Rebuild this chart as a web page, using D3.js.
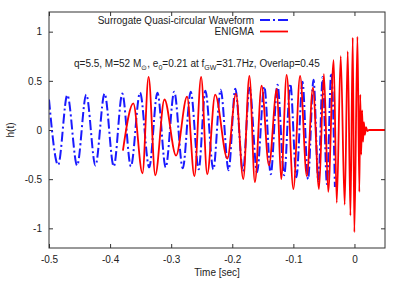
<!DOCTYPE html>
<html>
<head>
<meta charset="utf-8">
<script src="https://cdnjs.cloudflare.com/ajax/libs/d3/7.8.5/d3.min.js"></script>
<style>
  body { margin: 0; background: #fff; }
  svg { display: block; font-family: "Liberation Sans", Arial, sans-serif; }
</style>
</head>
<body>
<svg id="chart" width="403" height="282"></svg>
<script>
// extrema: [time (s), h(t)]
var surrogate = [
  [-0.500, 0.31], [-0.485, -0.355], [-0.470, 0.355], [-0.454, -0.36], [-0.439, 0.36],
  [-0.424, -0.36], [-0.409, 0.37], [-0.394, -0.37], [-0.380, 0.37], [-0.366, -0.37],
  [-0.351, 0.38], [-0.336, -0.38], [-0.3225, 0.38], [-0.309, -0.38], [-0.295, 0.39],
  [-0.281, -0.39], [-0.268, 0.39], [-0.255, -0.40], [-0.244, 0.40], [-0.231, -0.40],
  [-0.219, 0.41], [-0.206, -0.41], [-0.195, 0.42], [-0.1825, -0.42], [-0.1716, 0.43],
  [-0.1595, -0.43], [-0.1475, 0.44], [-0.137, -0.45], [-0.126, 0.46], [-0.115, -0.46],
  [-0.105, 0.47], [-0.095, -0.48], [-0.085, 0.49], [-0.076, -0.50], [-0.067, 0.51],
  [-0.059, -0.52], [-0.052, 0.54], [-0.045, -0.55], [-0.038, 0.58], [-0.032, -0.58]
];

var enigma = [
  [-0.379, -0.21], [-0.362, 0.27], [-0.347, -0.44], [-0.337, 0.54], [-0.326, -0.46],
  [-0.311, 0.31], [-0.292, -0.26], [-0.274, 0.34], [-0.262, -0.47], [-0.251, 0.54],
  [-0.241, -0.45], [-0.228, 0.36], [-0.208, -0.29], [-0.194, 0.37], [-0.182, -0.50],
  [-0.172, 0.55], [-0.163, -0.53], [-0.152, 0.45], [-0.140, -0.36], [-0.127, 0.42],
  [-0.120, -0.50], [-0.111, 0.56], [-0.100, -0.60], [-0.089, 0.55], [-0.078, -0.47],
  [-0.068, 0.43], [-0.058, -0.60], [-0.050, 0.57], [-0.043, -0.63], [-0.034, 0.71],
  [-0.029, -0.74], [-0.0225, 0.75], [-0.016, -0.76], [-0.011, 0.80], [-0.0066, -0.87],
  [-0.0028, 0.94], [-0.0002, -1.04], [0.0049, 0.95], [0.008, -0.63], [0.0095, 0.36],
  [0.011, -0.25], [0.0125, 0.20], [0.014, -0.12], [0.0155, 0.08], [0.017, -0.05],
  [0.019, 0.03], [0.021, -0.01], [0.024, 0], [0.05, 0]
];

var xTicks = [-0.5, -0.4, -0.3, -0.2, -0.1, 0];
var yTicks = [-1, -0.5, 0, 0.5, 1];
var seriesNames = ["Surrogate Quasi-circular Waveform", "ENIGMA"];
var colors = ["#1a1aff", "#ff0000"];

var W = 403, H = 282;
var L = 49, R = 385, T = 12, B = 248;

var svg = d3.select("#chart");

var xScale = d3.scaleLinear().domain([-0.5, 0.05]).range([L, R]);
var yScale = d3.scaleLinear().domain([-1.2, 1.2]).range([B, T]);

// clip so lines stay in the frame
svg.append("clipPath").attr("id", "clip")
  .append("rect").attr("x", L).attr("y", T).attr("width", R - L).attr("height", B - T);

var lineGen = d3.line()
  .x(function(p) { return xScale(p[0]); })
  .y(function(p) { return yScale(p[1]); })
  .curve(d3.curveMonotoneX);

var tickFmt = function(d) { return d === 0 ? "0" : String(d); };

// axes, gnuplot style: inward ticks on all sides
var axisStyle = function(g) {
  g.select(".domain").remove();
  g.selectAll("line").attr("stroke", "#333");
  g.selectAll("text").attr("fill", "#222").style("font-size", "10px")
    .style("font-family", "'Liberation Sans', Arial, sans-serif");
};

svg.append("g").attr("transform", "translate(0," + B + ")")
  .call(d3.axisBottom(xScale).tickValues(xTicks).tickFormat(tickFmt).tickSizeInner(-4).tickSizeOuter(0).tickPadding(8))
  .call(axisStyle);
svg.append("g").attr("transform", "translate(0," + T + ")")
  .call(d3.axisTop(xScale).tickValues(xTicks).tickSizeInner(-4).tickSizeOuter(0).tickFormat(""))
  .call(axisStyle);
svg.append("g").attr("transform", "translate(" + L + ",0)")
  .call(d3.axisLeft(yScale).tickValues(yTicks).tickFormat(tickFmt).tickSizeInner(-4).tickSizeOuter(0).tickPadding(7))
  .call(axisStyle);
svg.append("g").attr("transform", "translate(" + R + ",0)")
  .call(d3.axisRight(yScale).tickValues(yTicks).tickSizeInner(-4).tickSizeOuter(0).tickFormat(""))
  .call(axisStyle);

// curves
var plot = svg.append("g").attr("clip-path", "url(#clip)");
plot.append("path")
  .attr("d", lineGen(surrogate))
  .attr("fill", "none")
  .attr("stroke", colors[0])
  .attr("stroke-width", 2)
  .attr("stroke-dasharray", "10,3,2,3");
plot.append("path")
  .attr("d", lineGen(enigma))
  .attr("fill", "none")
  .attr("stroke", colors[1])
  .attr("stroke-width", 1.8);

// frame
svg.append("rect")
  .attr("x", L).attr("y", T).attr("width", R - L).attr("height", B - T)
  .attr("fill", "none").attr("stroke", "#333").attr("stroke-width", 1);

// legend
var leg = svg.append("g");
seriesNames.forEach(function(name, i) {
  var yy = 20 + i * 11.5;
  leg.append("text").attr("x", 254).attr("y", yy + 3.5)
    .attr("text-anchor", "end").style("font-size", "10px").attr("fill", "#222").text(name);
  leg.append("line").attr("x1", 260).attr("x2", 288).attr("y1", yy).attr("y2", yy)
    .attr("stroke", colors[i]).attr("stroke-width", i === 0 ? 2 : 1.8)
    .attr("stroke-dasharray", i === 0 ? "10,3,2,3" : null);
});

// annotation
var ann = svg.append("text").attr("x", 74).attr("y", 67)
  .style("font-size", "10px").attr("fill", "#222");
ann.append("tspan").text("q=5.5, M=52 M");
ann.append("tspan").attr("dy", 2.5).style("font-size", "7px").text("\u2299");
ann.append("tspan").attr("dy", -2.5).text(", e");
ann.append("tspan").attr("dy", 2.5).style("font-size", "7px").text("0");
ann.append("tspan").attr("dy", -2.5).text("=0.21 at f");
ann.append("tspan").attr("dy", 2.5).style("font-size", "7px").text("GW");
ann.append("tspan").attr("dy", -2.5).text("=31.7Hz, Overlap=0.45");

// axis titles
svg.append("text").attr("x", 217).attr("y", 276).attr("text-anchor", "middle")
  .style("font-size", "10px").attr("fill", "#222").text("Time [sec]");
svg.append("text").attr("transform", "translate(14," + yScale(0) + ") rotate(-90)")
  .attr("text-anchor", "middle").style("font-size", "10px").attr("fill", "#222").text("h(t)");
</script>
</body>
</html>
